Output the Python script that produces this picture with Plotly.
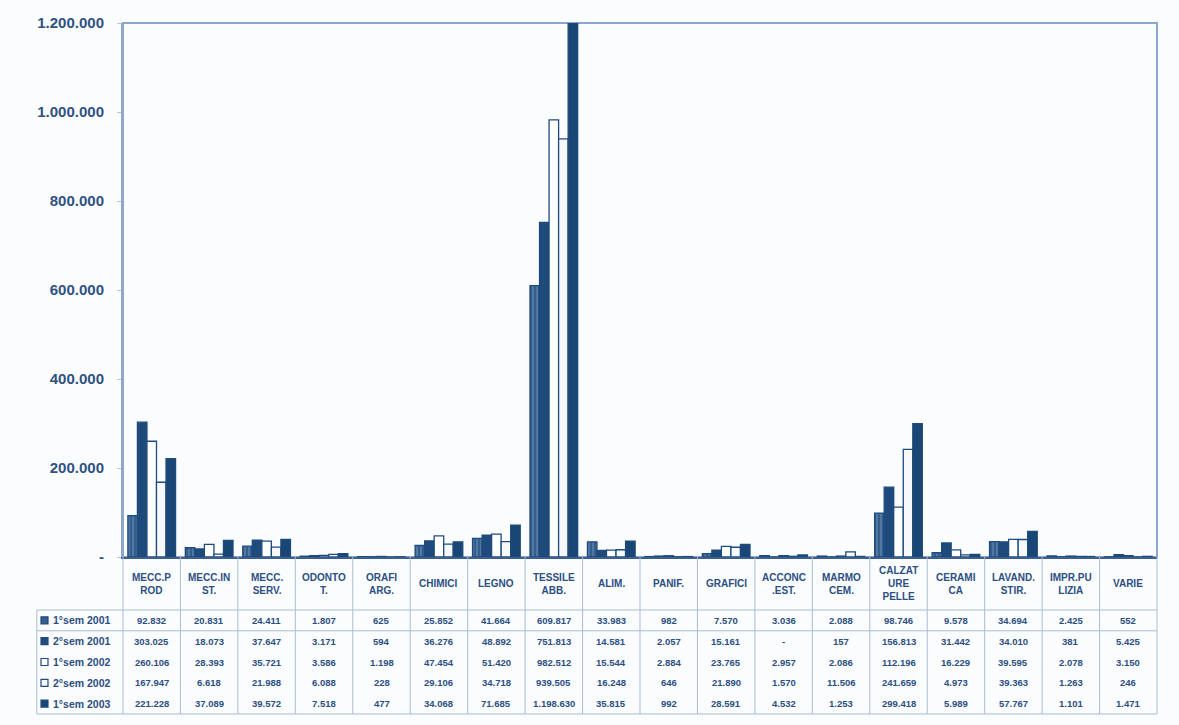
import plotly.graph_objects as go

# Settori (intestazioni di colonna della tabella)
categories = [
    "MECC.P<br>ROD", "MECC.IN<br>ST.", "MECC.<br>SERV.", "ODONTO<br>T.", "ORAFI<br>ARG.",
    "CHIMICI", "LEGNO", "TESSILE<br>ABB.", "ALIM.", "PANIF.", "GRAFICI",
    "ACCONC<br>.EST.", "MARMO<br>CEM.", "CALZAT<br>URE<br>PELLE", "CERAMI<br>CA",
    "LAVAND.<br>STIR.", "IMPR.PU<br>LIZIA", "VARIE",
]

series_names = ["1°sem 2001", "2°sem 2001", "1°sem 2002", "2°sem 2002", "1°sem 2003"]

sem1_2001 = [92832, 20831, 24411, 1807, 625, 25852, 41664, 609817, 33983, 982,
             7570, 3036, 2088, 98746, 9578, 34694, 2425, 552]
sem2_2001 = [303025, 18073, 37647, 3171, 594, 36276, 48892, 751813, 14581, 2057,
             15161, None, 157, 156813, 31442, 34010, 381, 5425]
sem1_2002 = [260106, 28393, 35721, 3586, 1198, 47454, 51420, 982512, 15544, 2884,
             23765, 2957, 2086, 112196, 16229, 39595, 2078, 3150]
sem2_2002 = [167947, 6618, 21988, 6088, 228, 29106, 34718, 939505, 16248, 646,
             21890, 1570, 11506, 241659, 4973, 39363, 1263, 246]
sem1_2003 = [221228, 37089, 39572, 7518, 477, 34068, 71685, 1198630, 35815, 992,
             28591, 4532, 1253, 299418, 5989, 57767, 1101, 1471]

y_tickvals = [0, 200000, 400000, 600000, 800000, 1000000, 1200000]
y_ticktext = ["-", "200.000", "400.000", "600.000", "800.000", "1.000.000", "1.200.000"]

all_series = [sem1_2001, sem2_2001, sem1_2002, sem2_2002, sem1_2003]

NAVY = "#1e4b7b"
MID = "#335e8e"
GRID = "#a9bcd5"
FRAME = "#8ea6c7"
TEXT = "#2c4f82"

styles = [
    dict(color=MID, pattern=dict(shape="|", fgcolor="#8ba6c8", size=4, solidity=0.35)),
    dict(color=NAVY),
    dict(color="#ffffff"),
    dict(color="#f6f8fc"),
    dict(color="#1a4676"),
]

W, H = 1179, 725
L, R, T, B = 123, 1157, 23, 557
PW, PH = R - L, B - T


def py(p):
    """pixel row -> paper y"""
    return (B - p) / PH


def px(p):
    """pixel column -> paper x"""
    return (p - L) / PW


def fmt(v):
    return "-" if v is None else f"{v:,}".replace(",", ".")


fig = go.Figure()
for name, vals, st in zip(series_names, all_series, styles):
    fig.add_trace(go.Bar(
        name=name, x=categories, y=[0 if v is None else v for v in vals],
        marker=dict(line=dict(color=NAVY, width=1.3), **st),
        showlegend=False,
    ))

n = len(categories)
shapes = []
annotations = []

# plot frame
shapes.append(dict(type="rect", xref="paper", yref="paper", x0=0, x1=1, y0=0, y1=1,
                   line=dict(color=FRAME, width=2), layer="below"))

# table geometry (pixels)
header_bottom = 610
row_h = 20.8
table_bottom = header_bottom + row_h * len(series_names)
leg_left = -1.5 / n

for i in range(n + 1):
    shapes.append(dict(type="line", xref="paper", yref="paper", x0=i / n, x1=i / n,
                       y0=0, y1=py(table_bottom), line=dict(color=GRID, width=1)))
shapes.append(dict(type="line", xref="paper", yref="paper", x0=leg_left, x1=leg_left,
                   y0=py(header_bottom), y1=py(table_bottom), line=dict(color=GRID, width=1)))
for yy in [header_bottom, header_bottom + row_h, table_bottom]:
    shapes.append(dict(type="line", xref="paper", yref="paper", x0=leg_left, x1=1,
                       y0=py(yy), y1=py(yy), line=dict(color=GRID, width=1)))

cell_font = dict(color=TEXT, family="Liberation Sans", weight="bold")

# header labels
for c in categories:
    annotations.append(dict(xref="x", yref="paper", x=c, y=py((B + header_bottom) / 2),
                            text=c, showarrow=False, xanchor="center", yanchor="middle",
                            font=dict(size=10, **cell_font)))

# rows: legend key + values
for r, (name, vals, st) in enumerate(zip(series_names, all_series, styles)):
    yc = header_bottom + row_h * (r + 0.5)
    sx0 = 41
    shapes.append(dict(type="rect", xref="paper", yref="paper",
                       x0=px(sx0), x1=px(sx0 + 7), y0=py(yc - 3.5), y1=py(yc + 3.5),
                       fillcolor=st["color"], line=dict(color=NAVY, width=1.2)))
    annotations.append(dict(xref="paper", yref="paper", x=px(51), y=py(yc), text=name,
                            showarrow=False, xanchor="left", yanchor="middle",
                            font=dict(size=10.5, **cell_font)))
    for c, v in zip(categories, vals):
        annotations.append(dict(xref="x", yref="paper", x=c, y=py(yc), text=fmt(v),
                                showarrow=False, xanchor="center", yanchor="middle",
                                font=dict(size=9.5, **cell_font)))

fig.update_layout(
    width=W, height=H,
    margin=dict(l=L, r=W - R, t=T, b=H - B),
    paper_bgcolor="#fbfcfe", plot_bgcolor="#fbfcfe",
    barmode="group", bargap=0.17, bargroupgap=0,
    shapes=shapes, annotations=annotations,
    xaxis=dict(showticklabels=False, showgrid=False, zeroline=False, ticks="",
               showline=True, linecolor="#3b6090", linewidth=1.5,
               range=[-0.5, n - 0.5]),
    yaxis=dict(range=[0, 1200000], tickvals=y_tickvals, ticktext=y_ticktext,
               showgrid=False, zeroline=False, showline=True, linecolor=FRAME,
               linewidth=2, ticks="outside", ticklen=4, tickcolor="#b8c7db",
               ticklabelstandoff=10,
               tickfont=dict(size=15, color="#2f5283", family="Liberation Sans",
                             weight="bold")),
    font=dict(family="Liberation Sans"),
)

fig.write_html("out.html")
